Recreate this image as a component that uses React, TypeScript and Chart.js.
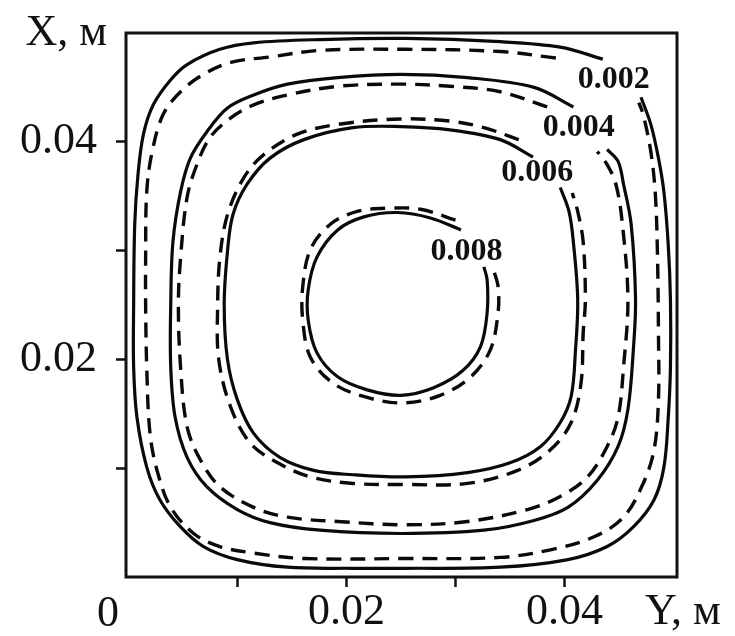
import React, { useEffect, useRef } from "react";
import { Chart, registerables } from "chart.js";

Chart.register(...registerables);

const FONT = '"Liberation Serif", "Times New Roman", serif';

// Axis ticks (metres)
const xTickValues = [0.01, 0.02, 0.03, 0.04];
const xTickLabels = ["", "0.02", "", "0.04"];
const yTickValues = [0.01, 0.02, 0.03, 0.04];
const yTickLabels = ["", "0.02", "", "0.04"];

// Contour lines, coordinates in millimetres (horizontal = Y, vertical = X)
const c002SolidX = [43.5, 39.6, 34.1, 25.4, 17.6, 11.5, 8.4, 5.4, 3.9, 2.3, 1.4, 0.9, 0.6, 0.5, 0.5, 0.8, 1.7, 2.9, 4.8, 6.9, 10.0, 14.6, 20.6, 25.4, 34.1, 40.3, 43.9, 46.3, 48.2, 49.1, 49.5, 49.7, 49.7, 49.5, 49.1, 48.6, 47.9, 47.0];
const c002SolidY = [47.6, 48.7, 49.2, 49.5, 49.4, 49.1, 48.5, 47.1, 45.7, 43.4, 40.7, 37.0, 32.4, 25.0, 19.3, 14.7, 10.1, 7.1, 4.6, 2.8, 1.6, 0.9, 0.8, 0.8, 0.9, 1.6, 2.8, 4.6, 7.1, 10.1, 14.7, 19.3, 25.5, 30.5, 35.4, 38.5, 41.6, 44.1];

const c002DashX = [39.2, 34.1, 25.4, 17.6, 13.0, 9.4, 6.9, 4.8, 3.2, 2.2, 1.7, 1.6, 1.6, 1.7, 2.0, 2.7, 3.9, 6.0, 8.4, 11.5, 16.1, 25.4, 34.1, 38.7, 42.7, 45.4, 47.2, 48.2, 48.6, 48.6, 48.5, 48.3, 47.9, 47.2, 46.8];
const c002DashY = [47.7, 48.3, 48.5, 48.4, 47.8, 47.3, 46.2, 44.6, 42.5, 39.1, 35.4, 29.3, 25.0, 19.3, 13.2, 9.6, 6.4, 4.0, 2.8, 2.2, 1.7, 1.7, 1.8, 2.5, 3.7, 5.5, 8.6, 11.7, 16.3, 22.4, 30.1, 35.4, 39.1, 42.5, 43.6];

const c004SolidX = [40.8, 37.2, 31.1, 25.0, 19.2, 14.6, 11.5, 9.1, 7.2, 5.7, 4.8, 4.1, 3.9, 3.9, 4.3, 5.4, 7.2, 10.0, 13.0, 17.6, 25.0, 32.6, 37.2, 40.3, 43.0, 44.9, 45.8, 46.3, 46.5, 46.1, 45.4, 44.9, 43.9];
const c004SolidY = [43.2, 45.0, 45.9, 46.2, 45.9, 45.3, 44.3, 43.1, 40.9, 38.5, 35.4, 30.8, 25.0, 19.3, 14.7, 11.0, 8.3, 6.2, 5.0, 4.3, 4.0, 4.3, 5.2, 6.4, 8.9, 12.0, 15.4, 20.9, 25.5, 32.4, 36.1, 38.2, 39.3];

const c004DashX = [38.4, 34.1, 29.5, 25.0, 19.2, 14.6, 11.5, 9.4, 7.5, 6.3, 5.4, 4.8, 4.6, 4.8, 5.4, 6.6, 8.4, 11.5, 14.6, 19.2, 25.4, 31.1, 36.6, 39.6, 42.1, 43.9, 44.9, 45.4, 45.8, 45.3, 44.7, 43.9, 43.0];
const c004DashY = [43.2, 44.6, 45.1, 45.3, 45.1, 44.3, 43.4, 42.2, 40.4, 37.9, 34.9, 29.3, 25.0, 19.3, 13.8, 10.8, 8.3, 6.4, 5.5, 5.1, 4.8, 5.1, 6.2, 7.4, 9.2, 12.0, 14.7, 19.3, 25.5, 32.4, 36.1, 37.9, 39.1];

const c006SolidX = [37.1, 34.1, 29.5, 25.0, 20.6, 16.1, 13.0, 10.9, 9.6, 9.1, 8.8, 9.1, 10.0, 11.5, 13.9, 17.0, 20.6, 25.4, 31.1, 35.0, 37.8, 39.6, 40.6, 41.0, 41.2, 40.8, 40.4, 39.6];
const c006SolidY = [38.6, 40.2, 41.1, 41.4, 41.3, 40.2, 38.5, 36.1, 33.3, 29.9, 25.0, 20.0, 16.3, 13.2, 11.0, 9.8, 9.4, 9.2, 9.6, 10.5, 12.0, 14.2, 16.6, 20.9, 25.5, 30.8, 33.6, 35.8];

const c006DashX = [35.8, 32.6, 29.5, 25.0, 19.2, 15.5, 12.4, 10.6, 9.1, 8.4, 8.2, 8.3, 9.4, 11.2, 13.7, 16.7, 20.6, 25.4, 31.1, 35.7, 38.7, 40.6, 41.5, 41.7, 41.9, 41.7, 41.2, 40.7];
const c006DashY = [40.2, 41.3, 41.9, 42.1, 41.6, 40.7, 38.8, 36.7, 33.3, 29.3, 25.0, 20.0, 15.6, 12.3, 10.5, 9.2, 8.6, 8.5, 8.6, 9.8, 11.7, 14.2, 17.8, 22.4, 25.5, 30.8, 33.6, 35.3];

const c008SolidX = [30.5, 27.7, 24.7, 21.6, 19.2, 17.3, 16.5, 16.5, 17.3, 19.2, 21.9, 25.0, 28.0, 30.7, 32.3, 32.9, 32.9, 32.6];
const c008SolidY = [31.9, 33.0, 33.5, 33.1, 31.9, 29.4, 26.4, 23.6, 20.6, 18.4, 17.2, 16.7, 17.4, 19.0, 21.2, 24.3, 27.3, 28.5];

const c008DashX = [30.0, 26.8, 24.0, 21.0, 18.5, 16.7, 16.0, 16.0, 16.7, 18.8, 21.9, 25.2, 28.6, 31.4, 33.2, 33.9, 33.9, 33.5];
const c008DashY = [32.8, 33.8, 33.9, 33.6, 32.4, 30.1, 26.7, 23.6, 20.2, 17.8, 16.5, 16.0, 16.7, 18.4, 20.9, 24.3, 26.7, 28.2];

// Contour value labels (position in millimetres)
const labelText = ["0.002", "0.004", "0.006", "0.008"];
const labelX = [44.5, 41.3, 37.5, 31.0];
const labelY = [45.7, 41.3, 37.2, 29.9];

export default function App() {
  const ref = useRef<HTMLCanvasElement>(null);

  useEffect(() => {
    if (!ref.current) return;
    const toPts = (xs: number[], ys: number[]) =>
      xs.map((x, i) => ({ x: x / 1000, y: ys[i] / 1000 }));
    const solid = (xs: number[], ys: number[]) => ({
      data: toPts(xs, ys),
      showLine: true,
      borderColor: "#0a0a0a",
      borderWidth: 3.2,
      pointRadius: 0,
      pointHoverRadius: 0,
      tension: 0.35,
      fill: false,
    });
    const dashed = (xs: number[], ys: number[]) => ({
      ...solid(xs, ys),
      borderDash: [15, 9],
      borderWidth: 3.4,
    });

    const framePlugin = {
      id: "frameAndText",
      afterDraw(chart: any) {
        const { ctx, chartArea: a, scales } = chart;
        ctx.save();
        ctx.strokeStyle = "#111";
        ctx.lineWidth = 3;
        ctx.strokeRect(a.left, a.top, a.right - a.left, a.bottom - a.top);
        ctx.fillStyle = "#111";
        ctx.font = `44px ${FONT}`;
        ctx.textBaseline = "middle";
        ctx.textAlign = "right";
        ctx.fillText("X, м", a.left - 19, a.top);
        ctx.textAlign = "center";
        ctx.fillText("0", a.left - 18, a.bottom + 37);
        ctx.textAlign = "left";
        ctx.fillText("Y, м", a.right - 32, a.bottom + 35);
        ctx.font = `bold 32px ${FONT}`;
        ctx.textAlign = "center";
        labelText.forEach((t, i) => {
          ctx.fillText(
            t,
            scales.x.getPixelForValue(labelX[i] / 1000),
            scales.y.getPixelForValue(labelY[i] / 1000)
          );
        });
        ctx.restore();
      },
    };

    const tickFont = { family: FONT, size: 44, lineHeight: 1 };
    const grid = {
      display: true,
      drawOnChartArea: false,
      drawTicks: true,
      tickLength: 10,
      tickWidth: 2.5,
      tickColor: "#111",
      color: "#111",
    };

    const chart = new Chart(ref.current, {
      type: "scatter",
      data: {
        datasets: [
          solid(c002SolidX, c002SolidY),
          dashed(c002DashX, c002DashY),
          solid(c004SolidX, c004SolidY),
          dashed(c004DashX, c004DashY),
          solid(c006SolidX, c006SolidY),
          dashed(c006DashX, c006DashY),
          solid(c008SolidX, c008SolidY),
          dashed(c008DashX, c008DashY),
        ] as any,
      },
      options: {
        animation: false,
        responsive: false,
        layout: { padding: { top: 33, right: 58, bottom: 0, left: 0 } },
        plugins: { legend: { display: false }, tooltip: { enabled: false } },
        events: [],
        scales: {
          x: {
            type: "linear",
            min: -0.0002,
            max: 0.0503,
            afterBuildTicks: (s: any) => {
              s.ticks = xTickValues.map((v) => ({ value: v }));
            },
            afterFit: (s: any) => {
              s.height = 59;
              s.paddingLeft = 0;
              s.paddingRight = 0;
            },
            grid,
            border: { display: false },
            ticks: {
              autoSkip: false,
              maxRotation: 0,
              padding: 3,
              color: "#111",
              font: tickFont,
              callback: (_v: any, i: number) => xTickLabels[i],
            },
          },
          y: {
            type: "linear",
            min: 0,
            max: 0.05,
            afterBuildTicks: (s: any) => {
              s.ticks = yTickValues.map((v) => ({ value: v }));
            },
            afterFit: (s: any) => {
              s.width = 126;
              s.paddingTop = 0;
              s.paddingBottom = 0;
            },
            grid,
            border: { display: false },
            ticks: {
              autoSkip: false,
              padding: 19,
              color: "#111",
              font: tickFont,
              callback: (_v: any, i: number) => yTickLabels[i],
            },
          },
        },
      } as any,
      plugins: [framePlugin],
    });
    return () => chart.destroy();
  }, []);

  return (
    <div style={{ position: "absolute", left: 0, top: 0, width: 735, height: 636, background: "#fff" }}>
      <canvas ref={ref} width={735} height={636} style={{ display: "block" }} />
    </div>
  );
}
